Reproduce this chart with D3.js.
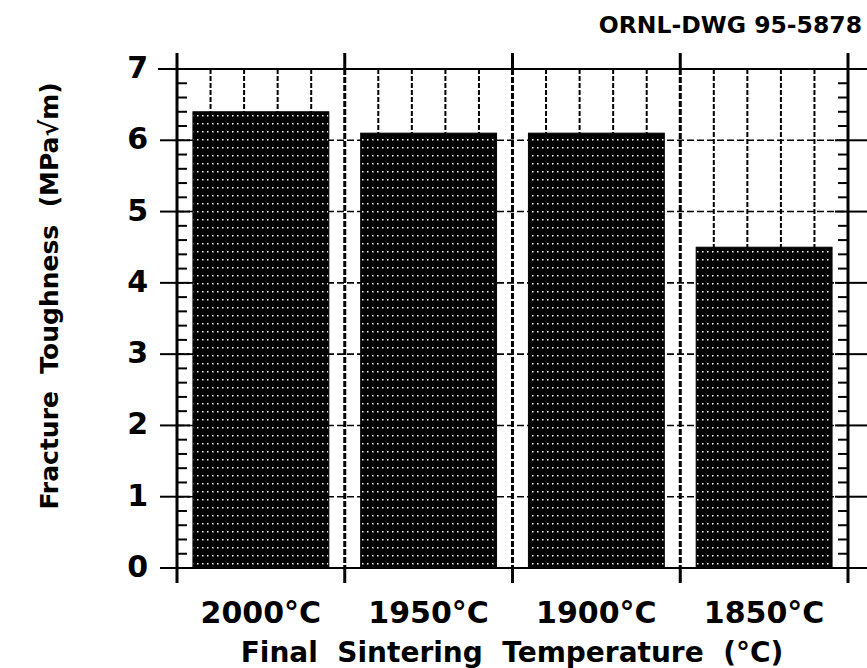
<!DOCTYPE html>
<html>
<head>
<meta charset="utf-8">
<script src="https://cdn.jsdelivr.net/npm/d3@7"></script>
<style>
  html, body { margin: 0; padding: 0; background: #fff; }
  svg { display: block; }
  text { font-family: "DejaVu Sans", "Liberation Sans", Arial, sans-serif; font-weight: bold; fill: #000; }
</style>
</head>
<body>
<svg id="chart" width="867" height="668"></svg>
<script>
// Final sintering temperature vs. fracture toughness
const categories = ["2000°C", "1950°C", "1900°C", "1850°C"];
const toughness = [6.4, 6.1, 6.1, 4.5];
const yTickValues = [0, 1, 2, 3, 4, 5, 6, 7];
const yMinorTicks = d3.range(0, 7.0001, 0.2);
const drawingNumber = "ORNL-DWG 95-5878";
const xTitle = "Final  Sintering  Temperature  (°C)";
const yTitle = "Fracture  Toughness  (MPa√m)";

const W = 867, H = 668;
const m = { left: 177, right: 19, top: 69, bottom: 100 };
const x0 = m.left, x1 = W - m.right, y0 = H - m.bottom, y1 = m.top;

const svg = d3.select("#chart");

// halftone fill for the bars: black with sparse white dots
const defs = svg.append("defs");
const pat = defs.append("pattern")
  .attr("id", "halftone").attr("patternUnits", "userSpaceOnUse")
  .attr("width", 10).attr("height", 8);
pat.append("rect").attr("width", 10).attr("height", 8).attr("fill", "#000");
pat.append("rect").attr("x", 2).attr("y", 3).attr("width", 1.5).attr("height", 1.5).attr("fill", "#fff");
pat.append("rect").attr("x", 7).attr("y", 3).attr("width", 1.5).attr("height", 1.5).attr("fill", "#fff");

const y = d3.scaleLinear().domain([0, 7]).range([y0, y1]);
const x = d3.scaleBand().domain(categories).range([x0, x1])
  .paddingInner(0.19).paddingOuter(0.095);
const step = x.step();
const catStart = c => x(c) - step * x.paddingOuter();

const g = svg.append("g");

// dashed horizontal grid at each whole unit
g.selectAll("line.hgrid").data(yTickValues.filter(v => v > 0 && v < 7)).join("line")
  .attr("x1", x0).attr("x2", x1)
  .attr("y1", d => y(d)).attr("y2", d => y(d))
  .attr("stroke", "#000").attr("stroke-width", 1.6).attr("stroke-dasharray", "7,3");

// dashed vertical grid: four divisions inside each category
const subLines = [];
categories.forEach(c => { for (let k = 1; k <= 4; k++) subLines.push(catStart(c) + step * k / 5); });
g.selectAll("line.vgrid").data(subLines).join("line")
  .attr("x1", d => d).attr("x2", d => d)
  .attr("y1", y1).attr("y2", y0)
  .attr("stroke", "#000").attr("stroke-width", 2).attr("stroke-dasharray", "5,2");

// category separators (dashed in the plot, solid stubs outside)
const seps = categories.slice(1).map(c => catStart(c));
g.selectAll("line.sep").data(seps).join("line")
  .attr("x1", d => d).attr("x2", d => d).attr("y1", y1).attr("y2", y0)
  .attr("stroke", "#000").attr("stroke-width", 3).attr("stroke-dasharray", "6,2");
g.selectAll("line.sepTop").data(seps).join("line")
  .attr("x1", d => d).attr("x2", d => d).attr("y1", y1 - 16).attr("y2", y1)
  .attr("stroke", "#000").attr("stroke-width", 3);
g.selectAll("line.sepBot").data(seps).join("line")
  .attr("x1", d => d).attr("x2", d => d).attr("y1", y0).attr("y2", y0 + 15)
  .attr("stroke", "#000").attr("stroke-width", 3);

// bars
g.selectAll("rect.bar").data(categories).join("rect")
  .attr("x", d => x(d)).attr("width", x.bandwidth())
  .attr("y", (d, i) => y(toughness[i]))
  .attr("height", (d, i) => y0 - y(toughness[i]))
  .attr("fill", "url(#halftone)").attr("stroke", "#000").attr("stroke-width", 1);

// frame: top and bottom lines
g.append("line").attr("x1", 158).attr("x2", W).attr("y1", y1).attr("y2", y1)
  .attr("stroke", "#000").attr("stroke-width", 2);
g.append("line").attr("x1", 160).attr("x2", W).attr("y1", y0).attr("y2", y0)
  .attr("stroke", "#000").attr("stroke-width", 2);

// left and right axes
[x0, x1].forEach(xx => {
  g.append("line").attr("x1", xx).attr("x2", xx).attr("y1", y1 - 16).attr("y2", y0 + 15)
    .attr("stroke", "#000").attr("stroke-width", 3);
});

// minor ticks (inside on both axes)
const minors = yMinorTicks.filter(v => Math.abs(v - Math.round(v)) > 1e-6);
g.selectAll("line.minL").data(minors).join("line")
  .attr("x1", x0).attr("x2", x0 + 10).attr("y1", d => y(d)).attr("y2", d => y(d))
  .attr("stroke", "#000").attr("stroke-width", 2);
g.selectAll("line.minR").data(minors).join("line")
  .attr("x1", x1 - 10).attr("x2", x1).attr("y1", d => y(d)).attr("y2", d => y(d))
  .attr("stroke", "#000").attr("stroke-width", 2);

// major ticks crossing both axes
g.selectAll("line.majL").data(yTickValues).join("line")
  .attr("x1", 160).attr("x2", x0 + 13).attr("y1", d => y(d)).attr("y2", d => y(d))
  .attr("stroke", "#000").attr("stroke-width", 2);
g.selectAll("line.majR").data(yTickValues).join("line")
  .attr("x1", x1 - 13).attr("x2", W).attr("y1", d => y(d)).attr("y2", d => y(d))
  .attr("stroke", "#000").attr("stroke-width", 2);

// y tick labels
g.selectAll("text.ylab").data(yTickValues).join("text")
  .attr("x", 148).attr("y", d => y(d) + 9)
  .attr("text-anchor", "end").attr("font-size", 30)
  .text(d => d);

// x category labels
g.selectAll("text.xlab").data(categories).join("text")
  .attr("x", d => x(d) + x.bandwidth() / 2).attr("y", 623)
  .attr("text-anchor", "middle").attr("font-size", 30)
  .text(d => d);

// axis titles
svg.append("text").attr("x", 512).attr("y", 662)
  .attr("text-anchor", "middle").attr("font-size", 28)
  .style("white-space", "pre").text(xTitle);
svg.append("text").attr("transform", "translate(58,296) rotate(-90)")
  .attr("text-anchor", "middle").attr("font-size", 25)
  .style("white-space", "pre").text(yTitle);

// drawing number
svg.append("text").attr("x", 862).attr("y", 33)
  .attr("text-anchor", "end").attr("font-size", 23.5)
  .text(drawingNumber);
</script>
</body>
</html>
